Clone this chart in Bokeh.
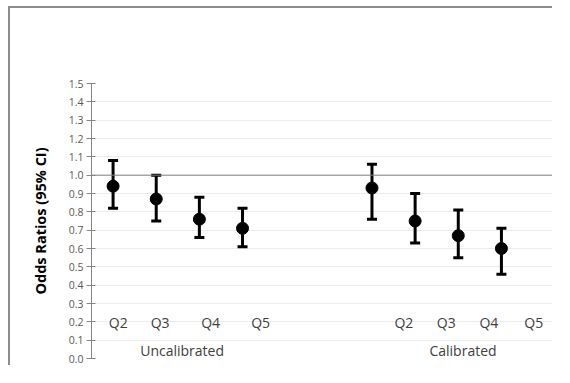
from bokeh.plotting import figure
from bokeh.models import ColumnDataSource, Whisker, Span, Label, FixedTicker, Range1d, CustomJSTickFormatter
from bokeh.embed import file_html
from bokeh.resources import INLINE

# Data
groups = ["Uncalibrated", "Calibrated"]
quintiles = ["Q2", "Q3", "Q4", "Q5"]
uncal_or = [0.94, 0.87, 0.76, 0.71]
uncal_lo = [0.82, 0.75, 0.66, 0.61]
uncal_hi = [1.08, 1.00, 0.88, 0.82]
cal_or = [0.93, 0.75, 0.67, 0.60]
cal_lo = [0.76, 0.63, 0.55, 0.46]
cal_hi = [1.06, 0.90, 0.81, 0.71]
y_ticks = [round(i * 0.1, 1) for i in range(16)]

# Layout (category slots)
uncal_x = [1, 2, 3, 4]
cal_x = [7, 8, 9, 10]
uncal_label_x = [1.12, 2.09, 3.26, 4.42]
cal_label_x = [7.74, 8.72, 9.71, 10.75]

p = figure(width=544, height=359, output_backend="svg", toolbar_location=None,
           x_range=Range1d(0.5, 11.23), y_range=Range1d(0, 1.5),
           min_border_left=81, min_border_right=0, min_border_top=75, min_border_bottom=9,
           background_fill_color="white", border_fill_color="white")
p.styles = {"margin-left": "8px", "margin-top": "6px",
            "border-left": "2px solid #8c8c8c", "border-top": "2px solid #8c8c8c"}
p.outline_line_color = None
p.xaxis.visible = False
p.xgrid.visible = False
p.ygrid.grid_line_color = "#ececec"
p.ygrid.ticker = FixedTicker(ticks=y_ticks)

ax = p.yaxis[0]
ax.ticker = FixedTicker(ticks=y_ticks)
ax.formatter = CustomJSTickFormatter(code="return tick.toFixed(1);")
ax.axis_line_color = "#868686"
ax.major_tick_line_color = "#868686"
ax.major_tick_in = 4
ax.major_tick_out = 5
ax.minor_tick_line_color = None
ax.major_label_text_font = "Open Sans"
ax.major_label_text_font_size = "10.5px"
ax.major_label_text_color = "#595959"
ax.major_label_standoff = 3
ax.axis_label = "Odds Ratios (95% CI)"
ax.axis_label_text_font = "Open Sans"
ax.axis_label_text_font_style = "bold"
ax.axis_label_text_font_size = "14.5px"
ax.axis_label_text_color = "#000000"
ax.axis_label_standoff = 16

p.add_layout(Span(location=1.0, dimension="width", line_color="#808080", line_width=1))

for xs, ors, los, his in [(uncal_x, uncal_or, uncal_lo, uncal_hi), (cal_x, cal_or, cal_lo, cal_hi)]:
    src = ColumnDataSource(dict(x=xs, y=ors, lo=los, hi=his))
    w = Whisker(source=src, base="x", lower="lo", upper="hi", line_color="black", line_width=3)
    for h in (w.upper_head, w.lower_head):
        h.size = 10
        h.line_width = 3
        h.line_color = "black"
    p.add_layout(w)
    p.scatter("x", "y", source=src, size=12, color="black")

for lx_list in [uncal_label_x, cal_label_x]:
    for lx, q in zip(lx_list, quintiles):
        p.add_layout(Label(x=lx, y=0.195, text=q, text_align="center", text_baseline="middle",
                           text_font="Open Sans", text_font_size="14px", text_color="#404040"))

for gx, g in zip([2.6, 9.11], groups):
    p.add_layout(Label(x=gx, y=0.045, text=g, text_align="center", text_baseline="middle",
                       text_font="Open Sans", text_font_size="14px", text_color="#404040"))

open("out.html", "w").write(file_html(p, INLINE))
